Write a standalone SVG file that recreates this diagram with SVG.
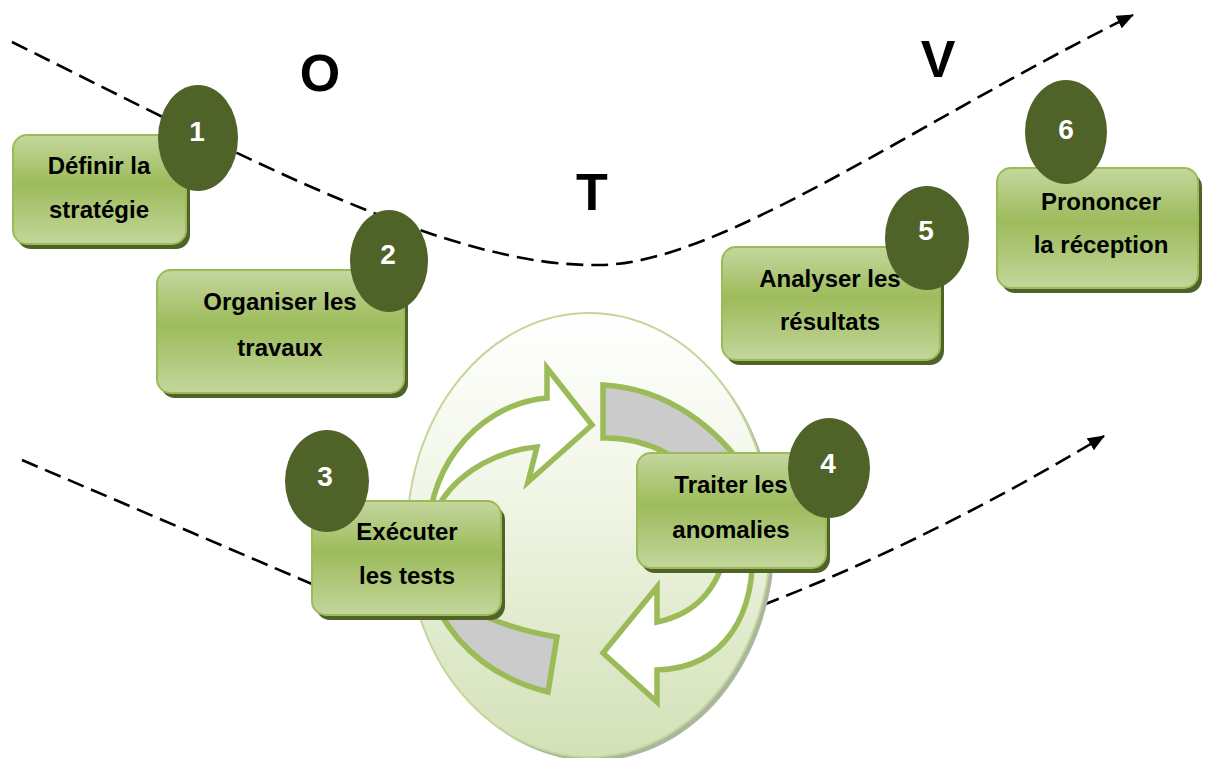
<svg xmlns="http://www.w3.org/2000/svg" width="1210" height="758" viewBox="0 0 1210 758">
<style>
.dash{fill:none;stroke:#000;stroke-width:2.6;stroke-dasharray:17 8}
.box{fill:url(#boxg);stroke:#9bbb59;stroke-width:2}
.shadow{fill:#4f6228}
.badge{fill:#4f6228}
.lbl{font-family:"Liberation Sans",Arial,sans-serif;font-weight:bold;font-size:24px;fill:#000;text-anchor:middle}
.num{font-family:"Liberation Sans",Arial,sans-serif;font-weight:bold;font-size:28px;fill:#fff;text-anchor:middle}
.big{font-family:"Liberation Sans",Arial,sans-serif;font-weight:bold;font-size:52px;fill:#000;text-anchor:middle}
.ring{stroke:#9bbb59;stroke-width:5.5;stroke-linejoin:miter}
</style>
<defs>
<linearGradient id="boxg" x1="0" y1="0" x2="0" y2="1">
<stop offset="0" stop-color="#c4d79e"/>
<stop offset="0.45" stop-color="#9dbb5b"/>
<stop offset="1" stop-color="#c3d69b"/>
</linearGradient>
<linearGradient id="ellg" x1="0" y1="0" x2="0" y2="1">
<stop offset="0" stop-color="#ffffff"/>
<stop offset="0.35" stop-color="#f3f7ea"/>
<stop offset="1" stop-color="#d3e1b7"/>
</linearGradient>
<marker id="arr" markerUnits="userSpaceOnUse" markerWidth="18" markerHeight="14" refX="16" refY="7" orient="auto">
<path d="M0,0 L17,7 L0,14 Z" fill="#000"/>
</marker>
</defs>
<rect width="1210" height="758" fill="#fff"/>

<g id="connectors">
<path class="dash" d="M12,42 C250,160 450,268 600,265 C720,264 920,120 1133,15" marker-end="url(#arr)"/>
<path class="dash" d="M22,460 L312,584 M763,605 Q935,538 1104,436" marker-end="url(#arr)"/>
</g>

<g id="letters">
<text class="big" x="320" y="91">O</text>
<text class="big" x="592" y="210">T</text>
<text class="big" x="938" y="77">V</text>
</g>

<g id="cycle">
<ellipse cx="593" cy="539" rx="182" ry="222" fill="#aab79c"/>
<ellipse cx="589" cy="535" rx="182" ry="222" fill="url(#ellg)" stroke="#c3d69b" stroke-width="2"/>
<path class="ring" fill="#fff" d="M430,545 C422,480 470,405 547,398 L547,368 L592,425 L528,482 L537,447 C500,450 462,470 442,500 Z"/>
<path class="ring" fill="#cbcbcb" d="M603,385 C660,388 720,420 765,500 L712,505 C695,455 640,437 603,438 Z"/>
<path class="ring" fill="#cbcbcb" d="M557,637 L548,692 C500,680 450,650 425,580 L455,600 C475,615 515,630 557,637 Z"/>
<path class="ring" fill="#fff" d="M752,540 C757,615 725,668 657,670 L657,702 L603,653 L657,587 L657,622 C690,615 720,595 728,540 Z"/>
</g>

<g id="n1">
<rect class="shadow" x="17" y="140" width="173" height="109" rx="14"/>
<rect class="box" x="13" y="135" width="173" height="109" rx="14"/>
<text class="lbl" x="99" y="174">Définir la</text>
<text class="lbl" x="99" y="218">stratégie</text>
<ellipse class="badge" cx="198" cy="138" rx="40" ry="53"/>
<text class="num" x="197" y="141">1</text>
</g>

<g id="n2">
<rect class="shadow" x="161" y="275" width="247" height="123" rx="14"/>
<rect class="box" x="157" y="270" width="247" height="123" rx="14"/>
<text class="lbl" x="280" y="310">Organiser les</text>
<text class="lbl" x="280" y="356">travaux</text>
<ellipse class="badge" cx="389" cy="261" rx="39" ry="51"/>
<text class="num" x="388" y="264">2</text>
</g>

<g id="n3">
<rect class="shadow" x="316" y="506" width="189" height="114" rx="14"/>
<rect class="box" x="312" y="501" width="189" height="114" rx="14"/>
<text class="lbl" x="407" y="540">Exécuter</text>
<text class="lbl" x="407" y="584">les tests</text>
<ellipse class="badge" cx="327" cy="481" rx="42" ry="51"/>
<text class="num" x="325" y="486">3</text>
</g>

<g id="n4">
<rect class="shadow" x="641" y="458" width="189" height="115" rx="14"/>
<rect class="box" x="637" y="453" width="189" height="115" rx="14"/>
<text class="lbl" x="731" y="493">Traiter les</text>
<text class="lbl" x="731" y="538">anomalies</text>
<ellipse class="badge" cx="829" cy="468" rx="41" ry="50"/>
<text class="num" x="828" y="473">4</text>
</g>

<g id="n5">
<rect class="shadow" x="726" y="252" width="218" height="113" rx="14"/>
<rect class="box" x="722" y="247" width="218" height="113" rx="14"/>
<text class="lbl" x="830" y="287">Analyser les</text>
<text class="lbl" x="830" y="330">résultats</text>
<ellipse class="badge" cx="927" cy="238" rx="42" ry="52"/>
<text class="num" x="926" y="240">5</text>
</g>

<g id="n6">
<rect class="shadow" x="1001" y="173" width="201" height="120" rx="14"/>
<rect class="box" x="997" y="168" width="201" height="120" rx="14"/>
<text class="lbl" x="1101" y="210">Prononcer</text>
<text class="lbl" x="1101" y="253">la réception</text>
<ellipse class="badge" cx="1066" cy="132" rx="41" ry="52"/>
<text class="num" x="1066" y="139">6</text>
</g>
</svg>
